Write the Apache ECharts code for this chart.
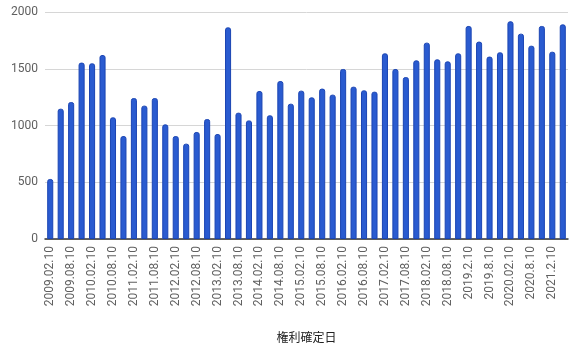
<!DOCTYPE html>
<html>
<head>
<meta charset="utf-8">
<script src="https://cdn.jsdelivr.net/npm/echarts@6/dist/echarts.min.js"></script>
<style>html,body{margin:0;padding:0;background:#fff}#c{width:586px;height:362px}</style>
</head>
<body>
<div id="c"></div>
<script>
var categories = [
  "2009.02.10","2009.05.10","2009.08.10","2009.11.10",
  "2010.02.10","2010.05.10","2010.08.10","2010.11.10",
  "2011.02.10","2011.05.10","2011.08.10","2011.11.10",
  "2012.02.10","2012.05.10","2012.08.10","2012.11.10",
  "2013.02.10","2013.05.10","2013.08.10","2013.11.10",
  "2014.02.10","2014.05.10","2014.08.10","2014.11.10",
  "2015.02.10","2015.05.10","2015.08.10","2015.11.10",
  "2016.02.10","2016.05.10","2016.08.10","2016.11.10",
  "2017.02.10","2017.05.10","2017.08.10","2017.11.10",
  "2018.02.10","2018.05.10","2018.08.10","2018.11.10",
  "2019.2.10","2019.5.10","2019.8.10","2019.11.10",
  "2020.02.10","2020.05.10","2020.8.10","2020.11.10",
  "2021.2.10","2021.5.10"
];
var values = [
  529, 1148, 1207, 1554, 1548, 1621, 1072, 907, 1242, 1175,
  1242, 1010, 907, 840, 943, 1057, 925, 1865, 1113, 1045,
  1304, 1090, 1392, 1192, 1307, 1248, 1325, 1272, 1498, 1342,
  1310, 1298, 1636, 1498, 1427, 1574, 1730, 1583, 1565, 1636,
  1877, 1739, 1607, 1645, 1918, 1809, 1703, 1877, 1650, 1891
];
var yTicks = [0, 500, 1000, 1500, 2000];
var axisTitle = "権利確定日";

var chart = echarts.init(document.getElementById('c'), null, {renderer: 'canvas'});
chart.setOption({
  animation: false,
  grid: {left: 45, right: 18, top: 12, bottom: 123, containLabel: false},
  xAxis: {
    type: 'category',
    data: categories,
    name: axisTitle,
    nameLocation: 'middle',
    nameGap: 92,
    nameTextStyle: {fontFamily: 'Noto Sans CJK JP', fontSize: 12, color: '#222'},
    axisLine: {lineStyle: {color: '#333', width: 1.5}},
    axisTick: {show: false},
    axisLabel: {interval: 1, rotate: 90, fontFamily: 'Roboto', fontSize: 12, color: '#5f5f5f', margin: 7}
  },
  yAxis: {
    type: 'value',
    min: yTicks[0],
    max: yTicks[yTicks.length - 1],
    interval: 500,
    axisLine: {show: false},
    axisTick: {show: false},
    splitLine: {lineStyle: {color: '#d6d6d6', width: 1}},
    axisLabel: {fontFamily: 'Roboto', fontSize: 12, color: '#5f5f5f', margin: 7, formatter: function (v) { return String(v); }}
  },
  series: [{
    type: 'bar',
    data: values,
    barWidth: '58%',
    itemStyle: {color: '#2a5bd0', borderColor: '#1b45b3', borderWidth: 1, borderRadius: [2, 2, 0, 0]}
  }]
});
</script>
</body>
</html>
